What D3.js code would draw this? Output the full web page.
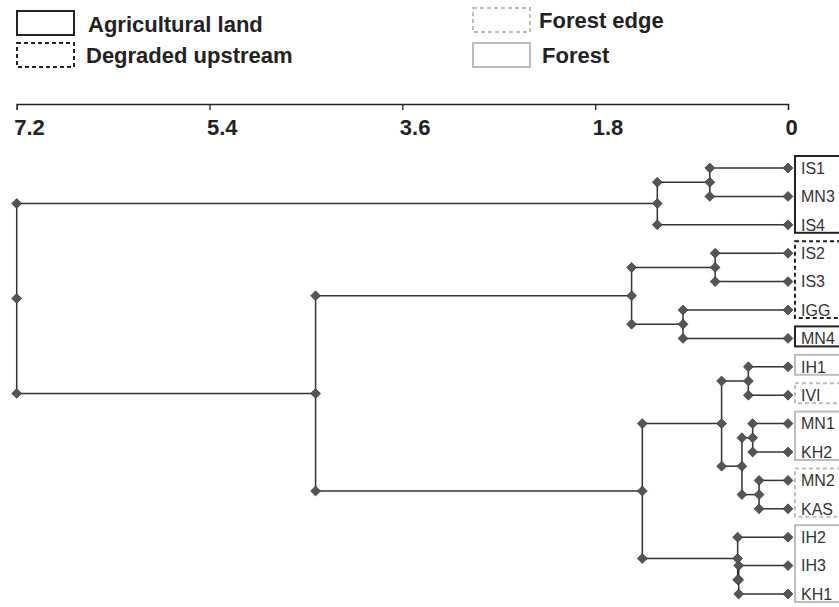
<!DOCTYPE html>
<html>
<head>
<meta charset="utf-8">
<script src="https://cdn.jsdelivr.net/npm/d3@7"></script>
<style>
  body { margin: 0; background: #fff; }
  svg { display: block; font-family: "Liberation Sans", Arial, sans-serif; }
</style>
</head>
<body>
<div id="canvas"></div>
<script>
// leaves, top to bottom
var leaves = ["IS1","MN3","IS4","IS2","IS3","IGG","MN4","IH1","IVI","MN1","KH2","MN2","KAS","IH2","IH3","KH1"];
var landUse = ["Agricultural land","Agricultural land","Agricultural land",
  "Degraded upstream","Degraded upstream","Degraded upstream",
  "Agricultural land","Forest","Forest edge","Forest","Forest",
  "Forest edge","Forest edge","Forest","Forest","Forest"];

// linkage: [child a, child b, height]; 0-15 are leaves, 16+ the merges in order
var merges = [
  [0, 1, 0.73],
  [16, 2, 1.22],
  [3, 4, 0.68],
  [5, 6, 0.98],
  [18, 19, 1.46],
  [7, 8, 0.37],
  [9, 10, 0.33],
  [11, 12, 0.27],
  [22, 23, 0.43],
  [21, 24, 0.62],
  [14, 15, 0.46],
  [13, 26, 0.47],
  [25, 27, 1.36],
  [20, 28, 4.41],
  [17, 29, 7.2]
];

var tickValues = [7.2, 5.4, 3.6, 1.8, 0];

var legendLeft = ["Agricultural land", "Degraded upstream"];
var legendRight = ["Forest edge", "Forest"];

var groupStyle = {
  "Agricultural land": {stroke: "#222", dash: null},
  "Degraded upstream": {stroke: "#222", dash: "4,3"},
  "Forest edge": {stroke: "#bdbdbd", dash: "4,3"},
  "Forest": {stroke: "#bdbdbd", dash: null}
};

var W = 839, H = 607;
var svg = d3.select('#canvas').append('svg')
  .attr('width', W).attr('height', H);

var scaleX = d3.scaleLinear().domain([7.2, 0]).range([16.7, 788]);
var scaleY = d3.scalePoint().domain(leaves).range([168, 594]);

// build nodes from the linkage
var nodes = leaves.map(function(name, i){
  return {id: i, name: name, h: 0, y: scaleY(name), children: null};
});
merges.forEach(function(m){
  var a = nodes[m[0]], b = nodes[m[1]];
  var n = {id: nodes.length, h: m[2], y: (a.y + b.y) / 2, children: [a, b]};
  a.parent = n; b.parent = n;
  nodes.push(n);
});

// axis
var axisX = d3.axisBottom(scaleX)
  .tickValues(tickValues)
  .tickSize(6)
  .tickSizeOuter(6)
  .tickFormat(d3.format('~g'));
var axisNode = svg.append('g').attr('transform', 'translate(0,104)');
axisX(axisNode);
axisNode.select('.domain').attr('stroke', '#222').attr('stroke-width', 1.3);
axisNode.selectAll('.tick line').attr('stroke', '#222').attr('stroke-width', 1.3);
axisNode.selectAll('.tick text')
  .attr('y', 31).attr('dy', 0).attr('x', -3)
  .attr('text-anchor', 'start')
  .attr('fill', '#222')
  .style('font-size', '22px').style('font-weight', 'bold')
  .style('font-family', '"Liberation Sans", Arial, sans-serif');

// label boxes: one box per run of equal land use
var runs = [];
landUse.forEach(function(g, i){
  var last = runs[runs.length - 1];
  if (last && last.group === g) last.end = i;
  else runs.push({group: g, start: i, end: i});
});
svg.append('g').selectAll('rect')
  .data(runs).enter().append('rect')
  .attr('x', 795)
  .attr('y', function(d){ return scaleY(leaves[d.start]) - 12; })
  .attr('width', 60)
  .attr('height', function(d){ return scaleY(leaves[d.end]) - scaleY(leaves[d.start]) + 20; })
  .attr('fill', 'none')
  .attr('stroke', function(d){ return groupStyle[d.group].stroke; })
  .attr('stroke-dasharray', function(d){ return groupStyle[d.group].dash; })
  .attr('stroke-width', 2);

// leaf labels
svg.append('g').selectAll('text')
  .data(leaves).enter().append('text')
  .attr('x', 801)
  .attr('y', function(d){ return scaleY(d); })
  .attr('dy', '0.36em')
  .attr('fill', '#333')
  .style('font-size', '16px')
  .text(function(d){ return d; });

// links
var links = svg.append('g').attr('stroke', '#333').attr('stroke-width', 1.5).attr('fill', 'none');
var diamonds = [];
nodes.forEach(function(n){
  diamonds.push([scaleX(n.h), n.y]);
  if (!n.children) return;
  var px = scaleX(n.h);
  links.append('line')
    .attr('x1', px).attr('x2', px)
    .attr('y1', n.children[0].y).attr('y2', n.children[1].y);
  n.children.forEach(function(c){
    links.append('line')
      .attr('x1', px).attr('x2', scaleX(c.h))
      .attr('y1', c.y).attr('y2', c.y);
    diamonds.push([px, c.y]);
  });
});

svg.append('g').selectAll('path')
  .data(diamonds).enter().append('path')
  .attr('d', d3.symbol(d3.symbolDiamond2, 62))
  .attr('transform', function(d){ return 'translate(' + d[0] + ',' + d[1] + ')'; })
  .attr('fill', '#555')
  .attr('stroke', '#333')
  .attr('stroke-width', 0.7);

// legend
var legend = svg.append('g').style('font-weight', 'bold').style('font-size', '22px');
function legendItem(name, bx, by, tx, ty){
  var s = groupStyle[name];
  legend.append('rect')
    .attr('x', bx).attr('y', by).attr('width', 57).attr('height', 24)
    .attr('fill', 'none')
    .attr('stroke', s.stroke)
    .attr('stroke-width', 2)
    .attr('stroke-dasharray', s.dash);
  legend.append('text')
    .attr('x', tx).attr('y', ty)
    .attr('fill', '#222')
    .text(name);
}
legendItem(legendLeft[0], 17, 11, 88, 32);
legendItem(legendLeft[1], 17, 43, 86, 63);
legendItem(legendRight[0], 473, 8, 539, 28);
legendItem(legendRight[1], 473, 43, 542, 63);
</script>
</body>
</html>
